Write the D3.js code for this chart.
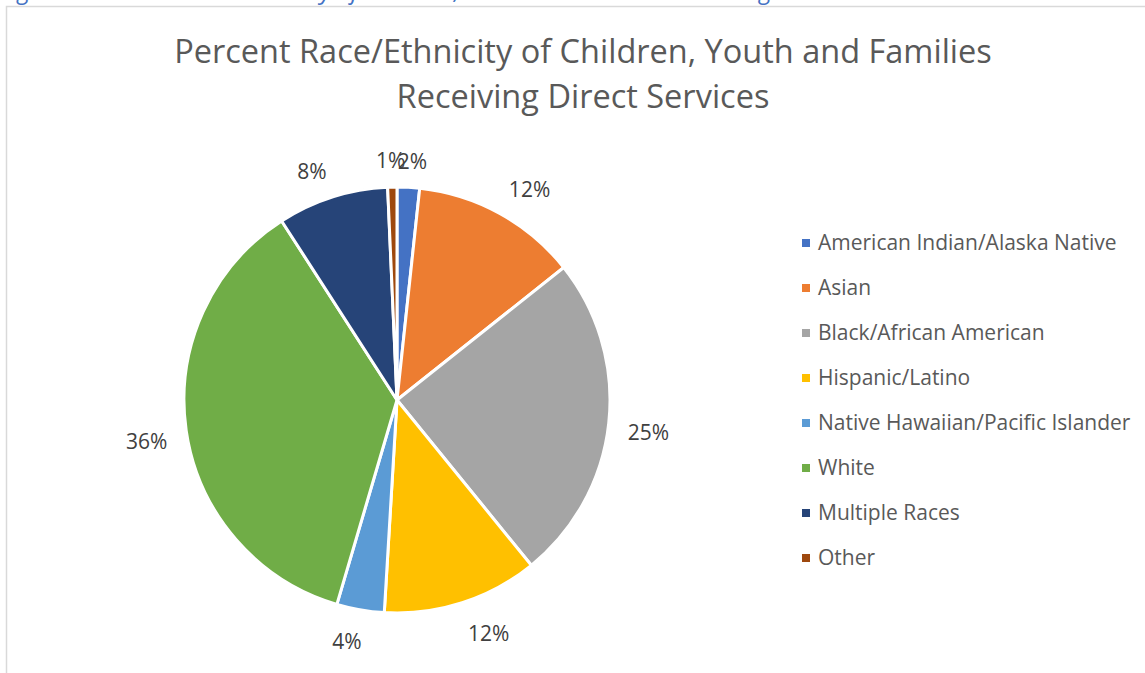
<!DOCTYPE html>
<html>
<head>
<meta charset="utf-8">
<script src="https://cdn.jsdelivr.net/npm/d3@7"></script>
<style>
  body { margin: 0; background: #fff; }
  svg { display: block; font-family: "Open Sans", sans-serif; }
</style>
</head>
<body>
<svg id="chart" width="1145" height="673"></svg>
<script>
const WIDTH = 1145,
      HEIGHT = 673,
      CX = 397,
      CY = 400,
      RADIUS = 213,
      LABEL_R = 232,
      LABEL_H = 20;

const categories = ['American Indian/Alaska Native', 'Asian', 'Black/African American',
    'Hispanic/Latino', 'Native Hawaiian/Pacific Islander', 'White', 'Multiple Races', 'Other'];
const values = [1.7, 12.6, 24.8, 11.8, 3.6, 36.3, 8.4, 0.7];
const labels = ['2%', '12%', '25%', '12%', '4%', '36%', '8%', '1%'];
const colors = ['#4472C4', '#ED7D31', '#A5A5A5', '#FFC000', '#5B9BD5', '#70AD47', '#264478', '#9E480E'];
const titleLines = ['Percent Race/Ethnicity of Children, Youth and Families', 'Receiving Direct Services'];
const caption = 'Figure 5: Percent Race/Ethnicity of Children, Youth and Families Receiving Direct Services';

const svg = d3.select('#chart');

// caption above the frame, cut off by the page top
svg.append('text')
    .attr('x', 0)
    .attr('y', -1)
    .attr('fill', '#4472C4')
    .style('font-style', 'italic')
    .style('font-size', '24px')
    .text(caption);

// chart frame
svg.append('rect')
    .attr('x', 6.5).attr('y', 6.5)
    .attr('width', WIDTH + 20).attr('height', HEIGHT + 20)
    .attr('fill', 'none')
    .attr('stroke', '#d9d9d9')
    .attr('stroke-width', 1.5);

svg.append('g')
    .selectAll('text')
    .data(titleLines)
    .enter()
    .append('text')
    .attr('x', 583)
    .attr('y', (d, i) => 63 + i * 45)
    .attr('text-anchor', 'middle')
    .attr('fill', '#595959')
    .style('font-size', '32.5px')
    .text(d => d);

const pie = d3.pie().sort(null).value(d => d)(values);
const arc = d3.arc().innerRadius(0).outerRadius(RADIUS);

const g = svg.append('g').attr('transform', `translate(${CX},${CY})`);

g.selectAll('path')
    .data(pie)
    .enter()
    .append('path')
    .attr('d', arc)
    .attr('fill', (d, i) => colors[i])
    .attr('stroke', '#fff')
    .attr('stroke-width', 3)
    .attr('stroke-linejoin', 'round');

// outside-end labels: label box pushed off the rim along the mid angle
g.selectAll('text')
    .data(pie)
    .enter()
    .append('text')
    .attr('text-anchor', 'middle')
    .attr('dy', '0.35em')
    .attr('fill', '#404040')
    .style('font-size', '21px')
    .text((d, i) => labels[i])
    .attr('transform', function(d) {
        let a = (d.startAngle + d.endAngle) / 2,
            w = this.getComputedTextLength(),
            s = Math.sin(a), c = Math.cos(a);
        let x = s * LABEL_R + Math.sign(s) * w / 2 * Math.min(1, Math.abs(s) * 4),
            y = -c * LABEL_R - Math.sign(c) * LABEL_H / 2 * Math.min(1, Math.abs(c) * 4) + 3;
        return `translate(${x},${y})`;
    });

const legend = svg.append('g').attr('transform', 'translate(802,243)');
const rows = legend.selectAll('g')
    .data(categories)
    .enter()
    .append('g')
    .attr('transform', (d, i) => `translate(0,${i * 45})`);

rows.append('rect')
    .attr('x', 0).attr('y', -4)
    .attr('width', 8).attr('height', 8)
    .attr('fill', (d, i) => colors[i]);

rows.append('text')
    .attr('x', 16)
    .attr('dy', '0.35em')
    .attr('fill', '#595959')
    .style('font-size', '21px')
    .text(d => d);
</script>
</body>
</html>
